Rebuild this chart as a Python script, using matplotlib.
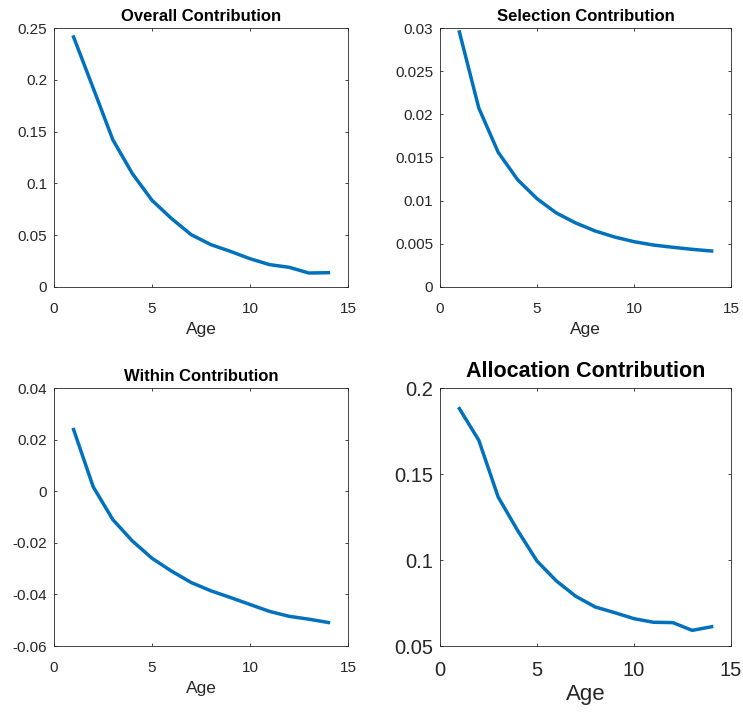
import numpy as np
import matplotlib
matplotlib.use("Agg")
import matplotlib.pyplot as plt

plt.rcParams['font.family'] = ['Liberation Sans', 'DejaVu Sans']

# Data
age = np.arange(1, 15)
overall = [0.2413, 0.192, 0.1422, 0.1094, 0.0837, 0.066, 0.0505,
           0.0409, 0.0344, 0.0273, 0.0216, 0.019, 0.0135, 0.0138]
selection = [0.02954, 0.02073, 0.0156, 0.01243, 0.01023, 0.00857, 0.00741,
             0.00649, 0.00579, 0.00525, 0.00486, 0.0046, 0.00436, 0.00417]
within = [0.0239, 0.0017, -0.011, -0.0193, -0.026, -0.031, -0.0354,
          -0.0386, -0.0412, -0.0439, -0.0466, -0.0485, -0.0496, -0.0509]
allocation = [0.188, 0.1696, 0.1366, 0.1172, 0.0994, 0.0878, 0.0789,
              0.0727, 0.0694, 0.0659, 0.0638, 0.0636, 0.0591, 0.0612]

blue = "#0072BD"
dark = "#262626"

fig = plt.figure(figsize=(7.43, 7.12), dpi=100)

W, H = 743., 712.

def make_ax(left, top, right, bottom):
    return fig.add_axes([left/W, 1-bottom/H, (right-left)/W, (bottom-top)/H])

def style(ax, ylim, yticks, ylabels, tick_fs, title, title_fs, title_pad,
          xlabel_fs, xlabel_pad):
    ax.set_xlim(0, 15)
    ax.set_ylim(*ylim)
    ax.set_xticks([0, 5, 10, 15])
    ax.set_yticks(yticks)
    ax.set_yticklabels(ylabels)
    ax.tick_params(direction="in", top=True, right=True, length=2.5,
                   width=0.6, color=dark, labelcolor=dark,
                   labelsize=tick_fs)
    ax.tick_params(axis="y", pad=5)
    ax.tick_params(axis="x", pad=11)
    for s in ax.spines.values():
        s.set_color(dark)
        s.set_linewidth(0.6)
    ax.set_title(title, fontsize=title_fs, fontweight="bold", pad=title_pad)
    ax.set_xlabel("Age", fontsize=xlabel_fs, color=dark, labelpad=xlabel_pad)

ax1 = make_ax(54, 28, 348, 287)
ax1.plot(age, overall, color=blue, lw=2.5)
style(ax1, (0, 0.25), [0, 0.05, 0.1, 0.15, 0.2, 0.25],
      ["0", "0.05", "0.1", "0.15", "0.2", "0.25"], 11,
      "Overall Contribution", 12, 5, 12.5, 4)

ax2 = make_ax(440, 28, 731, 287)
ax2.plot(age, selection, color=blue, lw=2.5)
style(ax2, (0, 0.03), [0, 0.005, 0.01, 0.015, 0.02, 0.025, 0.03],
      ["0", "0.005", "0.01", "0.015", "0.02", "0.025", "0.03"], 11,
      "Selection Contribution", 12, 5, 12.5, 4)

ax3 = make_ax(54, 388, 348, 646)
ax3.plot(age, within, color=blue, lw=2.5)
style(ax3, (-0.06, 0.04), [-0.06, -0.04, -0.02, 0, 0.02, 0.04],
      ["-0.06", "-0.04", "-0.02", "0", "0.02", "0.04"], 11,
      "Within Contribution", 12, 5, 12.5, 4)

ax4 = make_ax(440, 388, 731, 646)
ax4.plot(age, allocation, color=blue, lw=2.5)
style(ax4, (0.05, 0.2), [0.05, 0.1, 0.15, 0.2],
      ["0.05", "0.1", "0.15", "0.2"], 14.5,
      "Allocation Contribution", 15.5, 8, 16, 3)

fig.savefig("out.png", dpi=100)
